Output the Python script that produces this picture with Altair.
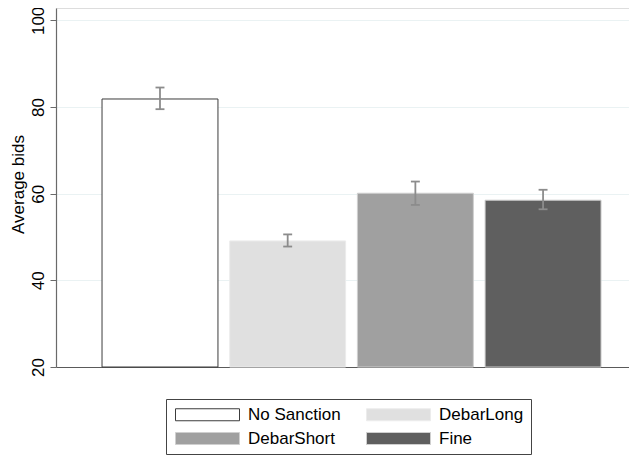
import altair as alt
import pandas as pd

categories = ["No Sanction", "DebarLong", "DebarShort", "Fine"]
means = [81.85, 49.1, 60.1, 58.5]
ci_low = [79.5, 47.8, 57.4, 56.4]
ci_high = [84.5, 50.6, 62.8, 60.9]
fills = ["#ffffff", "#e0e0e0", "#a0a0a0", "#5f5f5f"]
strokes = ["#3c3c3c", "#ececec", "#cfcfcf", "#cfcfcf"]
y_ticks = [20, 40, 60, 80, 100]

FONT = "Liberation Sans"
half = 0.454
cap = 0.035

df = pd.DataFrame({"cat": categories, "mean": means, "lo": ci_low, "hi": ci_high})
df["pos"] = list(range(1, len(categories) + 1))
df["x0"] = df["pos"] - half
df["x1"] = df["pos"] + half
df["c0"] = df["pos"] - cap
df["c1"] = df["pos"] + cap

xscale = alt.Scale(domain=[0.1856, 4.673], nice=False, zero=False)
yscale = alt.Scale(domain=[20, 102.85], nice=False, zero=False)

xaxis = alt.Axis(labels=False, ticks=False, grid=False, title=None,
                 domainColor="#5a5a5a", domainWidth=1.2)
yaxis = alt.Axis(values=y_ticks, labelAngle=270, labelAlign="center",
                 labelBaseline="bottom", labelPadding=3, tickSize=6,
                 tickColor="#6a6a6a", domainColor="#6a6a6a", domainWidth=1.2,
                 gridColor="#eaf2f3", gridWidth=1, labelFontSize=17,
                 labelColor="#000000", labelFont=FONT,
                 title="Average bids", titleFontSize=17, titleFont=FONT,
                 titleFontWeight="normal", titleColor="#000000",
                 titleX=-38, titleY=176, titleAngle=270,
                 titleAlign="center", titleBaseline="middle")

legend = alt.Legend(title=None, orient="none", legendX=110, legendY=391,
                    direction="horizontal",
                    columns=2, columnPadding=23, rowPadding=6,
                    symbolType="M-1,-1H9.667V1H-1Z", symbolSize=144,
                    symbolStrokeWidth=1, symbolOpacity=1,
                    labelOffset=58, labelFontSize=17, labelFont=FONT,
                    labelColor="#000000", labelLimit=200,
                    strokeColor="#444444", padding=7, fillColor="#ffffff")

base = alt.Chart(df)

bars = base.mark_bar(strokeWidth=1, opacity=1).encode(
    x=alt.X("x0:Q", scale=xscale, axis=xaxis),
    x2="x1:Q",
    y=alt.Y("mean:Q", scale=yscale, axis=yaxis),
    y2=alt.datum(20),
    fill=alt.Fill("cat:N", scale=alt.Scale(domain=categories, range=fills), legend=legend),
    stroke=alt.Stroke("cat:N", scale=alt.Scale(domain=categories, range=strokes), legend=legend),
)

ebar_color = "#8c8c8c"
ew = 1.8
stem = base.mark_rule(color=ebar_color, strokeWidth=ew).encode(
    x="pos:Q", y="lo:Q", y2="hi:Q")
cap_lo = base.mark_rule(color=ebar_color, strokeWidth=ew).encode(
    x="c0:Q", x2="c1:Q", y="lo:Q")
cap_hi = base.mark_rule(color=ebar_color, strokeWidth=ew).encode(
    x="c0:Q", x2="c1:Q", y="hi:Q")

chart = alt.layer(bars, stem, cap_lo, cap_hi).properties(
    width=573, height=359,
    autosize=alt.AutoSizeParams(type="none"),
    padding={"left": 48, "top": 0, "right": 0, "bottom": 88},
).configure_view(stroke=None).configure(font=FONT)

chart.save("out.html", embed_options={"renderer": "svg", "actions": False})
